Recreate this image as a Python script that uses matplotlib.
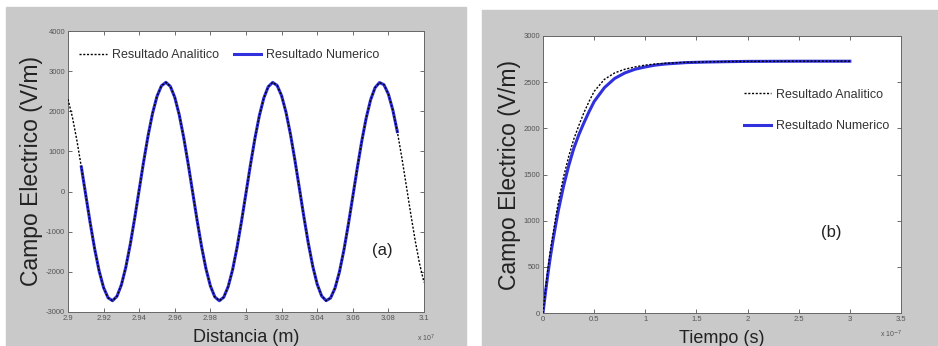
import numpy as np
import matplotlib
matplotlib.use("Agg")
import matplotlib.pyplot as plt
from matplotlib.patches import Rectangle

# (a) campo vs distancia (x in units of 1e7 m)
dist = [2.9 + 0.0025 * k for k in range(81)]
ana_E = [2301, 1849, 1273, 611, -92, -789, -1433, -1980, -2393, -2645,
         -2719, -2609, -2323, -1880, -1311, -653, 49, 748, 1396, 1950,
         2373, 2635, 2720, 2621, 2345, 1911, 1348, 694, -7, -707,
         -1360, -1921, -2352, -2625, -2720, -2632, -2366, -1941, -1385, -735,
         -36, 666, 1322, 1891, 2330, 2613, 2719, 2643, 2387, 1970,
         1422, 776, 79, -624, -1285, -1859, -2308, -2601, -2718, -2652,
         -2407, -2000, -1458, -817, -122, 583, 1247, 1828, 2285, 2588,
         2716, 2662, 2427, 2029, 1494, 858, 164, -541, -1209, -1796,
         -2261]
num_dist = dist[3:75]
num_E = ana_E[3:75]

# (b) campo vs tiempo
tiempo = [0, 0.025, 0.05, 0.075, 0.1, 0.125, 0.15, 0.2, 0.25, 0.3, 0.35,
          0.4, 0.45, 0.5, 0.6, 0.7, 0.8, 0.9, 1.0, 1.1, 1.2, 1.4, 1.6,
          1.8, 2.0, 2.25, 2.5, 2.75, 3.0]
ana_T = [0, 260, 500, 700, 870, 1040, 1200, 1470, 1690, 1880, 2030,
         2170, 2290, 2400, 2530, 2600, 2640, 2665, 2685, 2697, 2705,
         2715, 2720, 2723, 2725, 2726, 2727, 2727, 2727]
num_T = [0, 230, 440, 630, 800, 960, 1110, 1370, 1590, 1780, 1930,
         2060, 2180, 2290, 2440, 2540, 2600, 2640, 2665, 2685, 2697,
         2712, 2718, 2722, 2725, 2726, 2727, 2727, 2727]

xt_a = [2.9, 2.92, 2.94, 2.96, 2.98, 3.0, 3.02, 3.04, 3.06, 3.08, 3.1]
xl_a = ["2.9", "2.92", "2.94", "2.96", "2.98", "3", "3.02", "3.04", "3.06", "3.08", "3.1"]
yt_a = [-3000, -2000, -1000, 0, 1000, 2000, 3000, 4000]
xt_b = [0, 0.5, 1, 1.5, 2, 2.5, 3, 3.5]
xl_b = ["0", "0.5", "1", "1.5", "2", "2.5", "3", "3.5"]
yt_b = [0, 500, 1000, 1500, 2000, 2500, 3000]

plt.rcParams['font.family'] = ['Liberation Sans', 'DejaVu Sans']

W, H = 938, 346
fig = plt.figure(figsize=(W / 100, H / 100), dpi=100)
fig.patch.set_facecolor('white')

grey = '#c9c9c9'
fig.patches.append(Rectangle((6 / W, 0), 460 / W, 1 - 7 / H, transform=fig.transFigure,
                             color=grey, zorder=-10))
fig.patches.append(Rectangle((482 / W, 0), 456 / W, 1 - 10 / H, transform=fig.transFigure,
                             color=grey, zorder=-10))

blue = '#3030dc'

def style(ax):
    ax.tick_params(direction='in', length=3, width=0.6, labelsize=5.5, colors='#555555',
                   top=True, right=True, pad=2)
    for s in ax.spines.values():
        s.set_color('#666666')
        s.set_linewidth(0.7)

# panel (a)
ax1 = fig.add_axes([68 / W, 1 - 312 / H, 356 / W, 281 / H])
ax1.plot(num_dist, num_E, color=blue, lw=2.2, label='Resultado Numerico', zorder=2)
ax1.plot(dist, ana_E, color='black', lw=1.0, ls=(0, (1.5, 1.2)),
         label='Resultado Analitico', zorder=3)
ax1.set_xlim(2.9, 3.1)
ax1.set_ylim(-3000, 4000)
ax1.set_xticks(xt_a, xl_a)
ax1.set_yticks(yt_a, [str(v) for v in yt_a])
style(ax1)
h, l = ax1.get_legend_handles_labels()
ax1.legend(h[::-1], l[::-1], ncol=2, frameon=False, fontsize=9, loc='upper left',
           bbox_to_anchor=(0.0, 0.975), handlelength=2.2, handletextpad=0.4,
           columnspacing=1.2, labelcolor='#333333')
ax1.set_xlabel('Distancia (m)', fontsize=13, labelpad=5, color='#222222')
ax1.set_ylabel('Campo Electrico (V/m)', fontsize=16.5, labelpad=2, color='#222222')
ax1.text(0.854, 0.22, '(a)', transform=ax1.transAxes, fontsize=12, va='center',
         color='#222222')
fig.text(417 / W, 1 - 341 / H, r'x 10$^{7}$', fontsize=5, color='#555555')

# panel (b)
ax2 = fig.add_axes([543 / W, 1 - 313 / H, 358 / W, 277 / H])
ax2.plot(tiempo, num_T, color=blue, lw=2.2, label='Resultado Numerico', zorder=2)
ax2.plot(tiempo, ana_T, color='black', lw=1.0, ls=(0, (1.5, 1.2)),
         label='Resultado Analitico', zorder=3)
ax2.set_xlim(0, 3.5)
ax2.set_ylim(0, 3000)
ax2.set_xticks(xt_b, xl_b)
ax2.set_yticks(yt_b, [str(v) for v in yt_b])
style(ax2)
h, l = ax2.get_legend_handles_labels()
ax2.legend(h[::-1], l[::-1], frameon=False, fontsize=9, loc='upper left',
           bbox_to_anchor=(0.53, 0.85), handlelength=2.2, handletextpad=0.4,
           labelspacing=1.55, labelcolor='#333333')
ax2.set_xlabel('Tiempo (s)', fontsize=13, labelpad=5, color='#222222')
ax2.set_ylabel('Campo Electrico (V/m)', fontsize=16.5, labelpad=2, color='#222222')
ax2.text(0.777, 0.289, '(b)', transform=ax2.transAxes, fontsize=12, va='center',
         color='#222222')
fig.text(880 / W, 1 - 338 / H, r'x 10$^{-7}$', fontsize=5, color='#555555')

fig.savefig('out.png', dpi=100, facecolor=fig.get_facecolor())
